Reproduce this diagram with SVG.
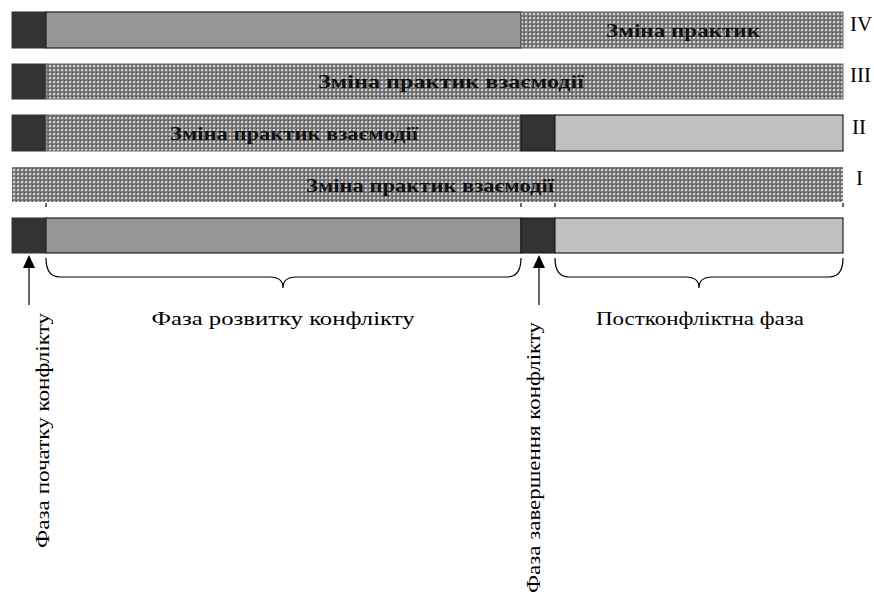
<svg xmlns="http://www.w3.org/2000/svg" width="874" height="594" viewBox="0 0 874 594">
<defs>
<pattern id="pat" width="4" height="4" patternUnits="userSpaceOnUse">
<rect width="4" height="4" fill="#7a7a7a"/>
<rect x="1" y="1" width="2" height="2" fill="#d4d4d4"/>
<rect x="0" y="0" width="1" height="1" fill="#4a4a4a"/>
</pattern>
</defs>
<style>
.dk{fill:#333333;stroke:#333;stroke-width:1}
.gr{fill:#969696;stroke:#222;stroke-width:1.2}
.lt{fill:#c0c0c0;stroke:#222;stroke-width:1.2}
.pt{fill:url(#pat);stroke:#666;stroke-width:1}
.bt{font-family:"Liberation Serif","DejaVu Serif",serif;font-weight:bold;font-size:19px;fill:#111;text-anchor:middle}
.rt{font-family:"Liberation Serif","DejaVu Serif",serif;font-size:18px;fill:#000}
.rn{font-family:"Liberation Serif","DejaVu Serif",serif;font-size:21px;fill:#000}
.ln{fill:none;stroke:#000;stroke-width:1.2}
</style>
<g id="rowIV">
<rect class="dk" x="12" y="12" width="34" height="36"/>
<rect class="gr" x="46" y="12" width="475" height="36"/>
<rect class="pt" x="521" y="12" width="322" height="36"/>
<text class="bt" x="683" y="37" textLength="154" lengthAdjust="spacingAndGlyphs">Зміна практик</text>
<text class="rn" x="850" y="31">IV</text>
</g>
<g id="rowIII">
<rect class="dk" x="12" y="64" width="34" height="35"/>
<rect class="pt" x="46" y="64" width="797" height="35"/>
<text class="bt" x="451" y="88" textLength="266" lengthAdjust="spacingAndGlyphs">Зміна практик взаємодії</text>
<text class="rn" x="850" y="82">III</text>
</g>
<g id="rowII">
<rect class="dk" x="12" y="115" width="34" height="36"/>
<rect class="pt" x="46" y="115" width="475" height="36"/>
<rect class="dk" x="521" y="115" width="34" height="36" style="stroke:#111"/>
<rect class="lt" x="555" y="115" width="288" height="36"/>
<text class="bt" x="294" y="140" textLength="248" lengthAdjust="spacingAndGlyphs">Зміна практик взаємодії</text>
<text class="rn" x="852" y="134">II</text>
</g>
<g id="rowI">
<rect x="12" y="167" width="831" height="35" fill="url(#pat)"/>
<text class="bt" x="430" y="192" textLength="248" lengthAdjust="spacingAndGlyphs">Зміна практик взаємодії</text>
<text class="rn" x="856" y="185">I</text>
</g>
<g id="base">
<rect class="dk" x="12" y="218" width="34" height="35"/>
<rect class="gr" x="46" y="218" width="475" height="35"/>
<rect class="dk" x="521" y="218" width="34" height="35" style="stroke:#111"/>
<rect class="lt" x="555" y="218" width="288" height="35"/>
</g>
<g id="connectors">
<path class="ln" d="M46,203 V207 M521,203 V207 M555,203 V207 M843,203 V207" stroke-width="1"/>
<path class="ln" d="M46,258 Q46,277 60,277 L270,277 Q283,277 283,288 Q283,277 296,277 L507,277 Q521,277 521,258"/>
<path class="ln" d="M555,258 Q555,277 569,277 L686,277 Q699,277 699,288 Q699,277 712,277 L829,277 Q843,277 843,258"/>
<line class="ln" x1="29" y1="305" x2="29" y2="266"/>
<polygon points="29,255 23,268 35,268" fill="#000"/>
<line class="ln" x1="539" y1="305" x2="539" y2="266"/>
<polygon points="539,255 533,268 545,268" fill="#000"/>
</g>
<g id="labels">
<text class="rt" x="283" y="325" text-anchor="middle" textLength="263" lengthAdjust="spacingAndGlyphs">Фаза розвитку конфлікту</text>
<text class="rt" x="700" y="325" text-anchor="middle" textLength="208" lengthAdjust="spacingAndGlyphs">Постконфліктна фаза</text>
<text class="rt" transform="translate(49,548) rotate(-90)" textLength="235" lengthAdjust="spacingAndGlyphs">Фаза початку конфлікту</text>
<text class="rt" transform="translate(540,593) rotate(-90)" textLength="271" lengthAdjust="spacingAndGlyphs">Фаза завершення конфлікту</text>
</g>
</svg>
